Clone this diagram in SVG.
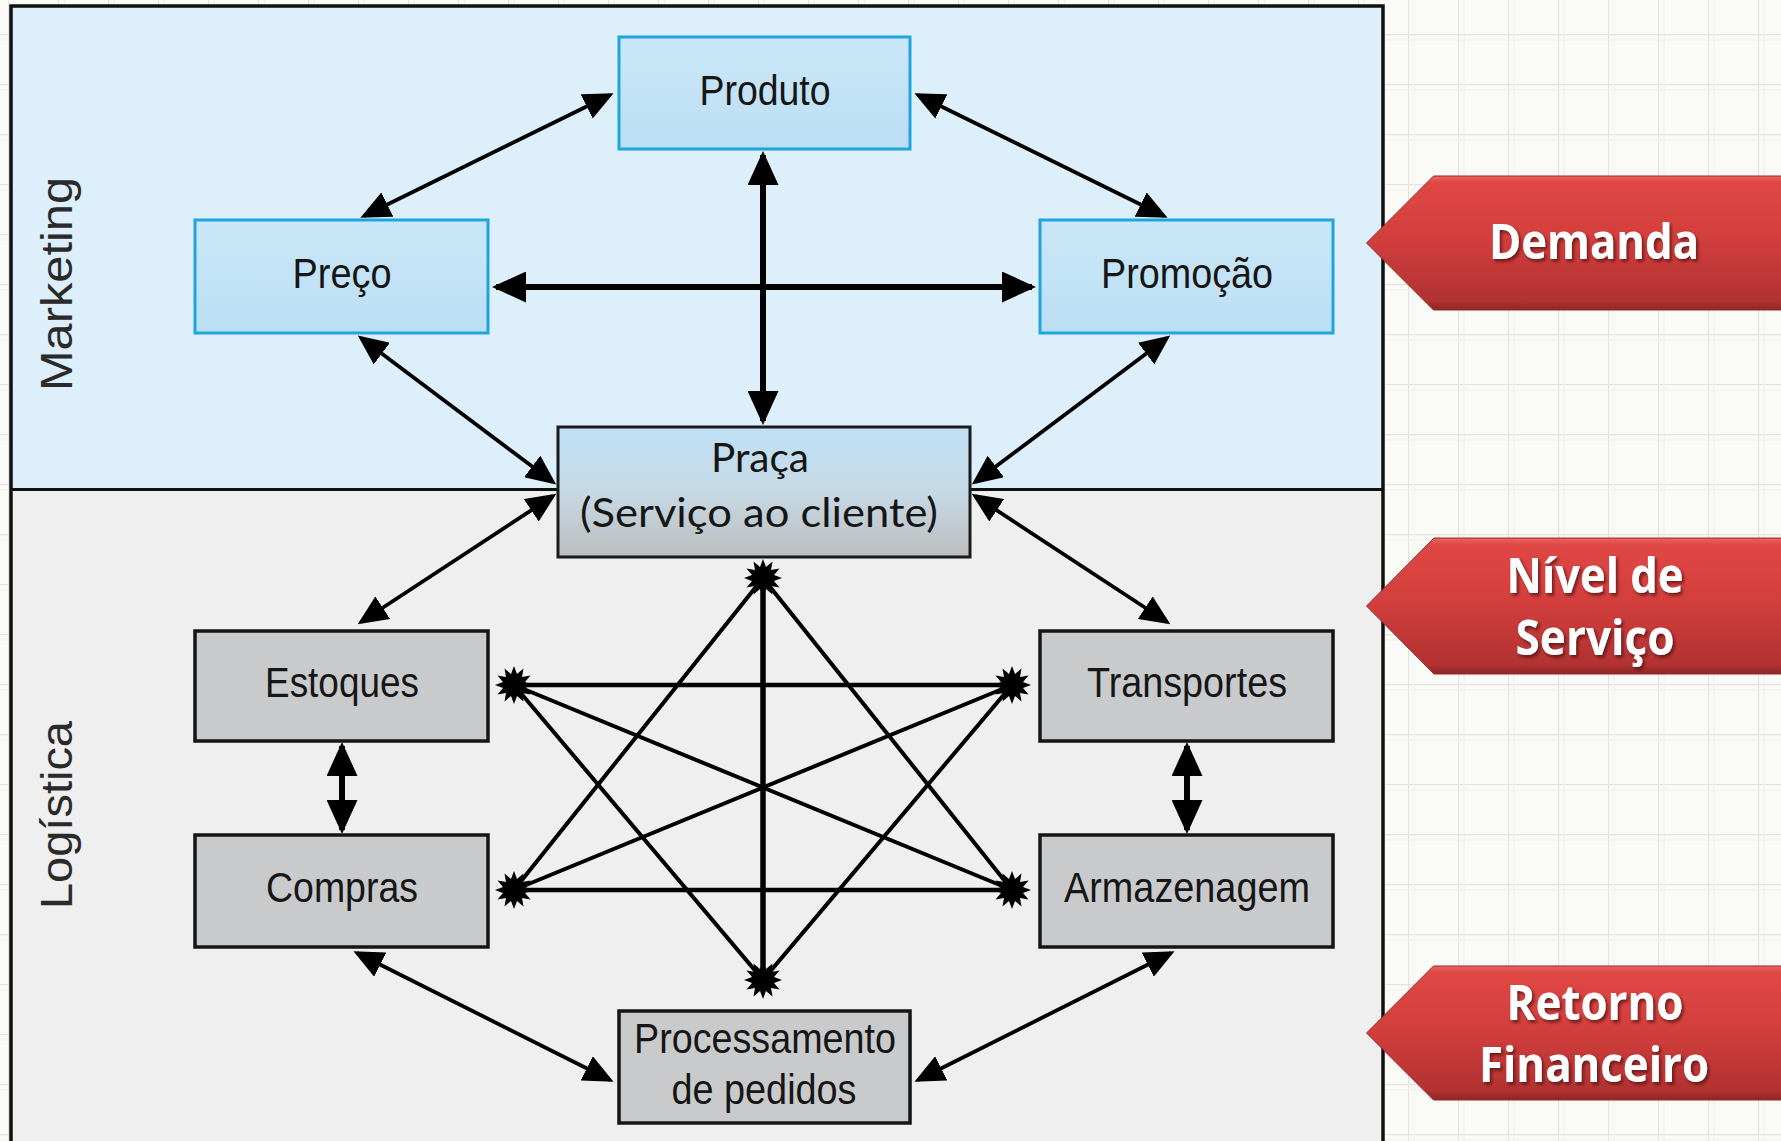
<svg xmlns="http://www.w3.org/2000/svg" width="1781" height="1141" viewBox="0 0 1781 1141">
<style>
.mk{fill:url(#gBlue);stroke:#1EA5DD;stroke-width:3}
.lg{fill:#C9CACC;stroke:#151515;stroke-width:3.5}
.t{font-family:"Liberation Sans",Arial,sans-serif;font-size:42px;fill:#161616;text-anchor:middle}
.tp{font-family:Lato,"Open Sans",sans-serif;font-size:41px;fill:#161616;text-anchor:middle}
.side{font-family:"Liberation Sans",Arial,sans-serif;font-size:45px;fill:#2a2a2a;text-anchor:middle}
.ban{font-family:"Open Sans","Noto Sans",sans-serif;font-weight:bold;font-size:48px;fill:#ffffff;text-anchor:middle;filter:url(#sh)}
.c{fill:none;stroke:#000;stroke-width:3.8;marker-start:url(#ah);marker-end:url(#ah)}
.cw{fill:none;stroke:#000;stroke-width:6;marker-start:url(#ahL);marker-end:url(#ahL)}
.s{fill:none;stroke:#000;stroke-width:4}
.sh2{fill:none;stroke:#000;stroke-width:4.5}
.sw{fill:none;stroke:#000;stroke-width:5.5}
.banner{fill:url(#gRed);stroke:#9a2828;stroke-width:1}
</style>
<defs>
<pattern id="grid" x="8" y="34" width="50" height="50" patternUnits="userSpaceOnUse">
<rect width="50" height="50" fill="#FAFAF7"/>
<path d="M0,0.5 H50 M0.5,0 V50" stroke="#E3E3E1" stroke-width="1.3" fill="none"/>
<path d="M0,6 H50 M6,0 V50" stroke="#EFEFED" stroke-width="1" fill="none"/>
</pattern>
<linearGradient id="gBlue" x1="0" y1="0" x2="0" y2="1">
<stop offset="0" stop-color="#CAE7F8"/><stop offset="1" stop-color="#BCDEF3"/>
</linearGradient>
<linearGradient id="gPraca" x1="0" y1="0" x2="0" y2="1">
<stop offset="0" stop-color="#C0E1F5"/><stop offset="0.5" stop-color="#C6D9E5"/><stop offset="1" stop-color="#BDBDBD"/>
</linearGradient>
<linearGradient id="gRed" x1="0" y1="0" x2="0" y2="1">
<stop offset="0" stop-color="#EA6561"/><stop offset="0.05" stop-color="#DF4744"/><stop offset="0.45" stop-color="#D33F3D"/><stop offset="0.93" stop-color="#B23232"/><stop offset="1" stop-color="#8E2625"/>
</linearGradient>
<filter id="sh" x="-10%" y="-20%" width="120%" height="150%">
<feDropShadow dx="2" dy="2.5" stdDeviation="1.5" flood-color="#4a0c0c" flood-opacity="0.75"/>
</filter>
<marker id="ah" viewBox="0 0 30 27" refX="26" refY="13.5" markerWidth="30" markerHeight="27" markerUnits="userSpaceOnUse" orient="auto-start-reverse">
<path d="M0,0 L30,13.5 L0,27 z" fill="#000"/>
</marker>
<marker id="ahL" viewBox="0 0 34 31" refX="30" refY="15.5" markerWidth="34" markerHeight="31" markerUnits="userSpaceOnUse" orient="auto-start-reverse">
<path d="M0,0 L34,15.5 L0,31 z" fill="#000"/>
</marker>
<polygon id="burst" fill="#000" points="19,0 11,3 16.5,9.5 8,8 9.5,16.5 3,11 0,19 -3,11 -9.5,16.5 -8,8 -16.5,9.5 -11,3 -19,0 -11,-3 -16.5,-9.5 -8,-8 -9.5,-16.5 -3,-11 0,-19 3,-11 9.5,-16.5 8,-8 16.5,-9.5 11,-3"/>
</defs>

<rect x="0" y="0" width="1781" height="1141" fill="url(#grid)"/>

<g id="frame">
<rect x="11" y="6" width="1372" height="483.5" fill="#DDEFFB"/>
<rect x="11" y="489.5" width="1372" height="660" fill="#EFEFEF"/>
<path d="M11,1150 V6 H1383 V1150" fill="none" stroke="#111" stroke-width="3.5"/>
<path d="M11,489.5 H1383" fill="none" stroke="#111" stroke-width="3"/>
<text class="side" transform="translate(72,284) rotate(-90)" textLength="214" lengthAdjust="spacingAndGlyphs">Marketing</text>
<text class="side" transform="translate(72,815) rotate(-90)" textLength="188" lengthAdjust="spacingAndGlyphs">Logística</text>
</g>

<g id="connectors">
<path class="c" d="M610,95 L364,216"/>
<path class="c" d="M918,95 L1164,216"/>
<path class="cw" d="M763,155 V421"/>
<path class="cw" d="M496,287 H1032"/>
<path class="c" d="M361,338 L553,482"/>
<path class="c" d="M1167,338 L975,482"/>
<path class="c" d="M553,496 L361,622"/>
<path class="c" d="M975,496 L1167,622"/>
<path class="cw" d="M342,746 V830"/>
<path class="cw" d="M1187,746 V830"/>
<path class="c" d="M357,953 L610,1080"/>
<path class="c" d="M1171,953 L918,1080"/>
<path class="sw" d="M763,578 V980"/>
<path class="sh2" d="M514,685 H1012 M514,890 H1012"/>
<path class="s" d="M514,685 L1012,890 M514,890 L1012,685"/>
<path class="s" d="M763,578 L514,890 M763,578 L1012,890"/>
<path class="s" d="M763,980 L514,685 M763,980 L1012,685"/>
<use href="#burst" x="763" y="578"/>
<use href="#burst" x="763" y="980"/>
<use href="#burst" x="514" y="685"/>
<use href="#burst" x="514" y="890"/>
<use href="#burst" x="1012" y="685"/>
<use href="#burst" x="1012" y="890"/>
</g>

<g id="produto"><rect class="mk" x="619" y="37" width="291" height="112"/><text class="t" x="765" y="105" textLength="131" lengthAdjust="spacingAndGlyphs">Produto</text></g>
<g id="preco"><rect class="mk" x="195" y="220" width="293" height="113"/><text class="t" x="342" y="288" textLength="99" lengthAdjust="spacingAndGlyphs">Preço</text></g>
<g id="promocao"><rect class="mk" x="1040" y="220" width="293" height="113"/><text class="t" x="1187" y="288" textLength="172" lengthAdjust="spacingAndGlyphs">Promoção</text></g>
<g id="praca"><rect x="558" y="427" width="412" height="130" fill="url(#gPraca)" stroke="#1a1a1a" stroke-width="3"/>
<text class="tp" x="760" y="472" textLength="98" lengthAdjust="spacingAndGlyphs">Praça</text>
<text class="tp" x="759" y="527" textLength="358" lengthAdjust="spacingAndGlyphs">(Serviço ao cliente)</text></g>
<g id="estoques"><rect class="lg" x="195" y="631" width="293" height="110"/><text class="t" x="342" y="697" textLength="154" lengthAdjust="spacingAndGlyphs">Estoques</text></g>
<g id="transportes"><rect class="lg" x="1040" y="631" width="293" height="110"/><text class="t" x="1187" y="697" textLength="200" lengthAdjust="spacingAndGlyphs">Transportes</text></g>
<g id="compras"><rect class="lg" x="195" y="835" width="293" height="112"/><text class="t" x="342" y="902" textLength="152" lengthAdjust="spacingAndGlyphs">Compras</text></g>
<g id="armazenagem"><rect class="lg" x="1040" y="835" width="293" height="112"/><text class="t" x="1187" y="902" textLength="246" lengthAdjust="spacingAndGlyphs">Armazenagem</text></g>
<g id="processamento"><rect class="lg" x="619" y="1011" width="291" height="112"/>
<text class="t" x="765" y="1053" textLength="262" lengthAdjust="spacingAndGlyphs">Processamento</text>
<text class="t" x="764" y="1104" textLength="185" lengthAdjust="spacingAndGlyphs">de pedidos</text></g>

<g id="demanda"><path class="banner" d="M1366.5,243 L1433.5,176 H1785 V310 H1433.5 Z"/>
<text class="ban" x="1594" y="259" textLength="210" lengthAdjust="spacingAndGlyphs">Demanda</text></g>
<g id="nivel"><path class="banner" d="M1366.5,606 L1434,538 H1785 V674 H1434 Z"/>
<text class="ban" x="1595" y="593" textLength="177" lengthAdjust="spacingAndGlyphs">Nível de</text>
<text class="ban" x="1595" y="655" textLength="159" lengthAdjust="spacingAndGlyphs">Serviço</text></g>
<g id="retorno"><path class="banner" d="M1366.5,1033 L1433.5,966 H1785 V1100 H1433.5 Z"/>
<text class="ban" x="1595" y="1020" textLength="177" lengthAdjust="spacingAndGlyphs">Retorno</text>
<text class="ban" x="1594" y="1082" textLength="230" lengthAdjust="spacingAndGlyphs">Financeiro</text></g>
</svg>
